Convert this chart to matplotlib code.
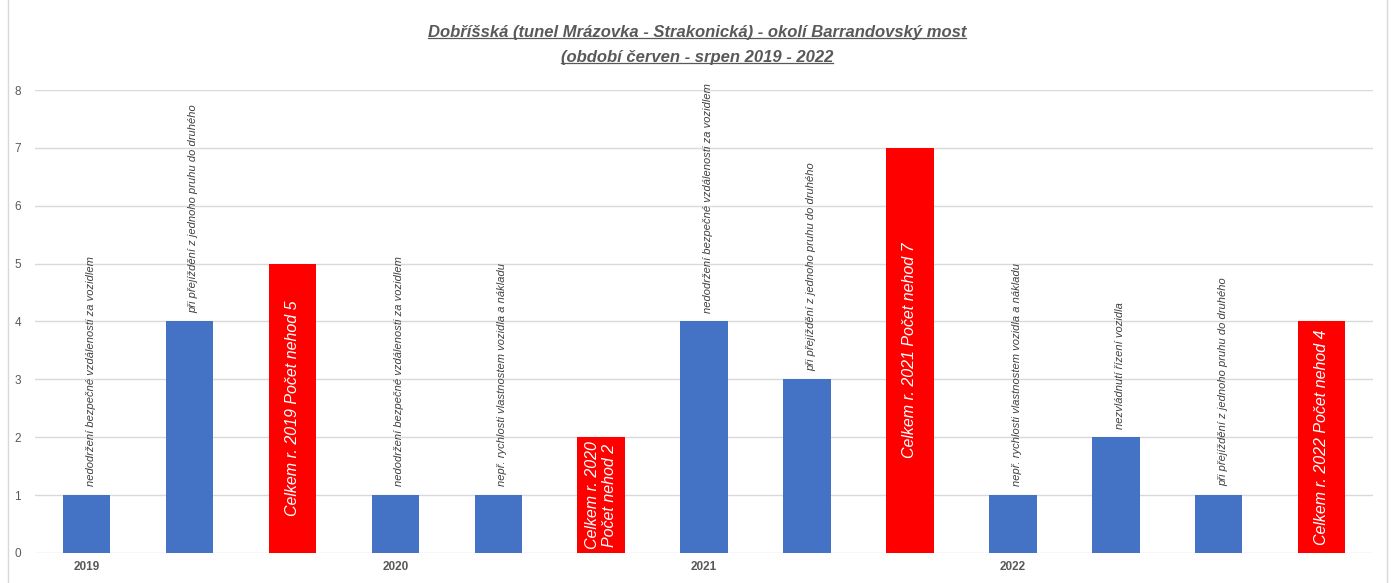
import matplotlib.pyplot as plt
from matplotlib.patches import Rectangle

plt.rcParams['font.family'] = ['Liberation Sans Narrow', 'Liberation Sans', 'DejaVu Sans']

causes = [
    "nedodržení bezpečné vzdálenosti za vozidlem",
    "při přejíždění z jednoho pruhu do druhého",
    "Celkem r. 2019 Počet nehod 5",
    "nedodržení bezpečné vzdálenosti za vozidlem",
    "nepř. rychlosti vlastnostem vozidla a nákladu",
    "Celkem r. 2020\nPočet nehod 2",
    "nedodržení bezpečné vzdálenosti za vozidlem",
    "při přejíždění z jednoho pruhu do druhého",
    "Celkem r. 2021 Počet nehod 7",
    "nepř. rychlosti vlastnostem vozidla a nákladu",
    "nezvládnutí řízení vozidla",
    "při přejíždění z jednoho pruhu do druhého",
    "Celkem r. 2022 Počet nehod 4",
]
counts = [1, 4, 5, 1, 1, 2, 4, 3, 7, 1, 2, 1, 4]
is_total = [False, False, True, False, False, True, False, False, True, False, False, False, True]
years = ["2019", "2020", "2021", "2022"]
year_pos = [0, 3, 6, 9]

blue = '#4472c4'
red = '#ff0000'
gray = '#595959'

fig = plt.figure(figsize=(13.94, 5.83), dpi=100)
ax = fig.add_axes([0.0251, 0.0515, 0.9600, 0.7941])

x = list(range(len(counts)))
colors = [red if t else blue for t in is_total]
ax.bar(x, counts, width=0.46, color=colors, zorder=2)

for i, (c, lab, t) in enumerate(zip(counts, causes, is_total)):
    if t:
        ax.text(i, c / 2, lab, rotation=90, ha='center', va='center',
                color='white', fontsize=11.5, style='italic',
                linespacing=1.2, zorder=3)
    else:
        ax.text(i + 0.04, c + 0.15, lab, rotation=90, ha='center', va='bottom',
                color='#404040', fontsize=8, style='italic',
                zorder=3)

ax.set_xlim(-0.5, len(counts) - 0.5)
ax.set_ylim(0, 8)
ax.set_yticks(range(0, 9))
ax.set_xticks(year_pos)
ax.set_xticklabels(years, fontweight='bold')
ax.tick_params(axis='both', length=0, colors=gray, labelsize=8.5)
ax.tick_params(axis='x', pad=6)
ax.tick_params(axis='y', pad=10)
ax.grid(axis='y', color='#d9d9d9', linewidth=1, zorder=0)
for s in ax.spines.values():
    s.set_visible(False)

t1 = fig.text(0.5, 0.945, "Dobříšská (tunel Mrázovka - Strakonická) - okolí Barrandovský most",
              ha='center', va='center', fontsize=12, style='italic',
              fontweight='bold', color=gray)
t2 = fig.text(0.5, 0.902, "(období červen - srpen 2019 - 2022",
              ha='center', va='center', fontsize=12, style='italic',
              fontweight='bold', color=gray)

# underline the title lines
fig.canvas.draw()
inv = fig.transFigure.inverted()
for t in (t1, t2):
    bb = t.get_window_extent()
    (x0, y0), (x1, y1) = inv.transform([(bb.x0, bb.y0), (bb.x1, bb.y1)])
    fig.add_artist(plt.Line2D([x0, x1], [y0 + 0.003, y0 + 0.003],
                              color=gray, linewidth=0.9, transform=fig.transFigure))

fig.add_artist(Rectangle((0.006, -0.01), 0.989, 1.02, transform=fig.transFigure,
                         fill=False, edgecolor='#d9d9d9', linewidth=1))

fig.savefig('out.png', dpi=100)
